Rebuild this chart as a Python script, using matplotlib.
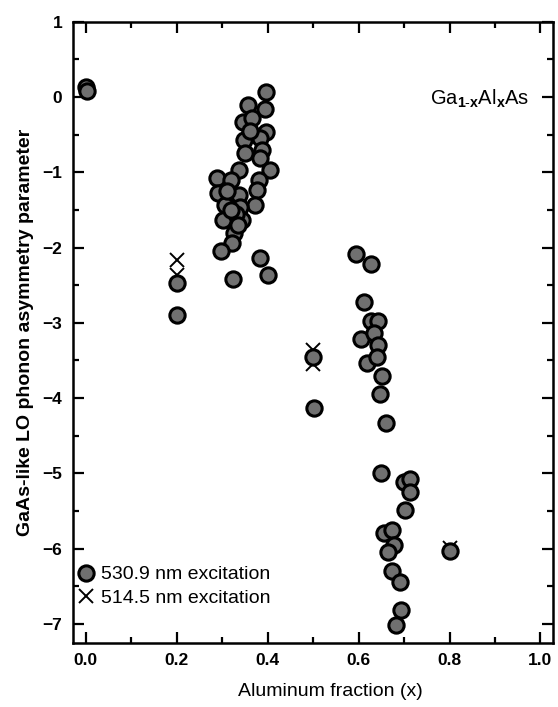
import matplotlib
matplotlib.use("Agg")
import matplotlib.pyplot as plt
from matplotlib.ticker import MultipleLocator, FormatStrFormatter

plt.rcParams['font.family'] = ['Liberation Sans', 'DejaVu Sans']
plt.rcParams['mathtext.fontset'] = 'custom'
plt.rcParams['mathtext.rm'] = 'Liberation Sans'
plt.rcParams['mathtext.it'] = 'Liberation Sans:italic'
plt.rcParams['mathtext.bf'] = 'Liberation Sans:bold'

# 530.9 nm excitation (circles)
x_530 = [0.000, 0.003, 0.200, 0.200,
         0.397, 0.356, 0.394, 0.346, 0.366, 0.397, 0.347, 0.384, 0.351, 0.387,
         0.384, 0.404, 0.337, 0.288, 0.320, 0.380, 0.377, 0.291, 0.337, 0.373,
         0.306, 0.340, 0.302, 0.344, 0.326, 0.322, 0.298, 0.382, 0.324, 0.400,
         0.330, 0.360, 0.310, 0.335, 0.320,
         0.500, 0.502,
         0.595, 0.627, 0.612, 0.627, 0.643, 0.605, 0.634, 0.643, 0.619, 0.641,
         0.652, 0.646, 0.661, 0.650, 0.699, 0.714, 0.714, 0.703, 0.655, 0.674,
         0.678, 0.665, 0.674, 0.692, 0.694, 0.682,
         0.800]
y_530 = [0.13, 0.08, -2.47, -2.89,
         0.07, -0.11, -0.16, -0.33, -0.28, -0.46, -0.57, -0.55, -0.75, -0.70,
         -0.81, -0.97, -0.97, -1.08, -1.10, -1.10, -1.24, -1.28, -1.30, -1.43,
         -1.43, -1.46, -1.63, -1.63, -1.81, -1.94, -2.05, -2.14, -2.42, -2.37,
         -1.55, -0.45, -1.25, -1.70, -1.50,
         -3.45, -4.13,
         -2.08, -2.22, -2.72, -2.98, -2.97, -3.22, -3.14, -3.29, -3.53, -3.46,
         -3.71, -3.95, -4.33, -4.99, -5.11, -5.08, -5.25, -5.49, -5.79, -5.75,
         -5.95, -6.04, -6.30, -6.44, -6.82, -7.01,
         -6.03]

# 514.5 nm excitation (crosses)
x_514 = [0.200, 0.200, 0.500, 0.500, 0.800]
y_514 = [-2.16, -2.36, -3.36, -3.55, -5.99]

label_530 = "530.9 nm excitation"
label_514 = "514.5 nm excitation"

fig = plt.figure(figsize=(5.58, 7.07), dpi=100)
ax = fig.add_axes([0.1303, 0.0909, 0.8602, 0.8784])

ax.plot(x_514, y_514, linestyle='none', marker='x', markersize=10,
        markeredgewidth=1.4, color='black', label=label_514, zorder=2)
ax.plot(x_530, y_530, linestyle='none', marker='o', markersize=11,
        markerfacecolor='#707070', markeredgecolor='black',
        markeredgewidth=2.2, label=label_530, zorder=3)

ax.set_xlim(-0.029, 1.027)
ax.set_ylim(-7.25, 1.0)

ax.xaxis.set_major_locator(MultipleLocator(0.2))
ax.xaxis.set_minor_locator(MultipleLocator(0.1))
ax.yaxis.set_major_locator(MultipleLocator(1))
ax.yaxis.set_minor_locator(MultipleLocator(0.5))
ax.xaxis.set_major_formatter(FormatStrFormatter('%.1f'))

ax.tick_params(which='both', direction='in', top=True, right=True, width=1.6)
ax.tick_params(which='major', length=8, labelsize=12.5, pad=7.5)
ax.tick_params(which='minor', length=4)
for lab in ax.get_xticklabels() + ax.get_yticklabels():
    lab.set_fontweight('bold')
for sp in ax.spines.values():
    sp.set_linewidth(1.8)

ax.set_xlabel("Aluminum fraction (x)", fontsize=14)
ax.xaxis.set_label_coords(0.536, -0.079)
ax.xaxis.label.set_va('center')
ax.set_ylabel("GaAs-like LO phonon asymmetry parameter", fontsize=14,
              fontweight='bold', labelpad=6)

ax.text(0.757, -0.106, r"Ga$_{\mathbf{1\text{-}x}}$Al$_{\mathbf{x}}$As",
        ha='left', va='baseline', fontsize=14.5)

handles, labels = ax.get_legend_handles_labels()
ax.legend(handles[::-1], labels[::-1], loc='lower left',
          bbox_to_anchor=(0.0075, 0.058), frameon=False, fontsize=14,
          handlelength=1.0, handletextpad=0.25, labelspacing=0.29,
          borderpad=0.0, borderaxespad=0.0)

fig.savefig("out.png", dpi=100)
